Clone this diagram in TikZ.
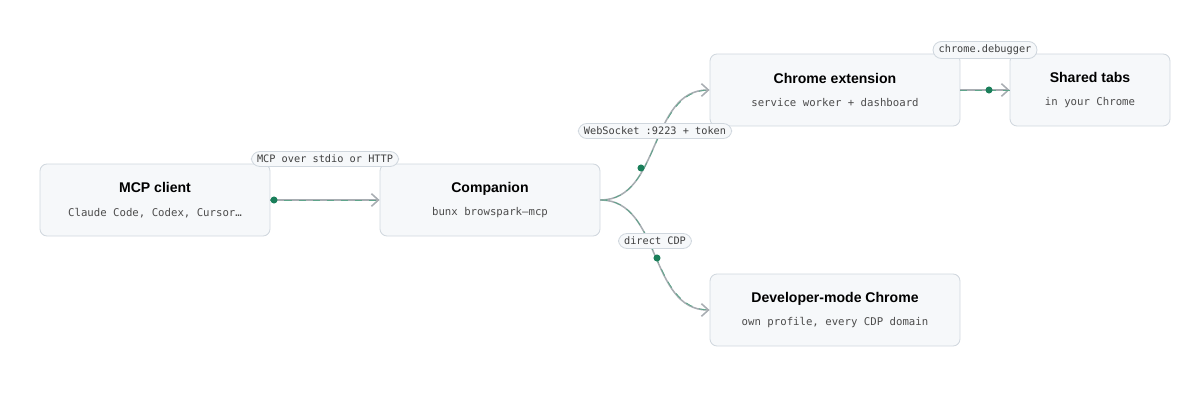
\documentclass[tikz,border=0pt]{standalone}
\usepackage{fontspec}
\setmainfont{Liberation Sans}
\setmonofont{DejaVu Sans Mono}
\usetikzlibrary{arrows.meta}
\definecolor{boxfill}{HTML}{F6F8FA}
\definecolor{boxline}{HTML}{D0D7DE}
\definecolor{wire}{HTML}{A8ADB2}
\definecolor{dotgreen}{HTML}{1A7F5A}
\tikzset{
  box/.style={draw=boxline, fill=boxfill, rounded corners=5pt, line width=0.6pt,
    minimum height=72*0.025cm, align=center, inner sep=0pt},
  tag/.style={draw=boxline, fill=boxfill, rounded corners=6pt, line width=0.6pt,
    font=\ttfamily\fontsize{7.3}{8}\selectfont, text=black!75, inner xsep=4pt, inner ysep=2.5pt},
  wire/.style={draw=wire, line width=1.1pt, -{Straight Barb[length=5pt,width=9pt]}},
  flow/.style={draw=dotgreen!70, line width=0.6pt, dash pattern=on 5pt off 5pt},
  dot/.style={circle, fill=dotgreen, inner sep=0pt, minimum size=5pt}
}
\newcommand{\boxtext}[2]{{\fontsize{10}{12}\selectfont\bfseries #1}\\[5pt]{\ttfamily\fontsize{7.6}{9}\selectfont\color{black!70}#2}}
\begin{document}
\begin{tikzpicture}[x=0.025cm,y=-0.025cm]
\useasboundingbox (0,0) rectangle (1200,400);

% boxes
\node[box, minimum width=230*0.025cm] (client) at (155,200) {\boxtext{MCP client}{Claude Code, Codex, Cursor…}};
\node[box, minimum width=220*0.025cm] (comp) at (490,200) {\boxtext{Companion}{bunx browspark–mcp}};
\node[box, minimum width=250*0.025cm] (ext) at (835,90) {\boxtext{Chrome extension}{service worker + dashboard}};
\node[box, minimum width=160*0.025cm] (tabs) at (1090,90) {\boxtext{Shared tabs}{in your Chrome}};
\node[box, minimum width=250*0.025cm] (dev) at (835,310) {\boxtext{Developer-mode Chrome}{own profile, every CDP domain}};

% connectors
\draw[wire] (client.east) -- (comp.west);
\draw[flow] (client.east) -- (comp.west);
\node[dot] (d1) at (274,200) {};

\draw[wire] (comp.east) to[out=0,in=180] (ext.west);
\draw[flow] (comp.east) to[out=0,in=180] (ext.west);
\node[dot] (d2) at (641,168) {};

\draw[wire] (comp.east) to[out=0,in=180] (dev.west);
\draw[flow] (comp.east) to[out=0,in=180] (dev.west);
\node[dot] (d3) at (657,258) {};

\draw[wire] (ext.east) -- (tabs.west);
\draw[flow] (ext.east) -- (tabs.west);
\node[dot] (d4) at (989,90) {};

% labels
\node[tag] (l1) at (325,159) {MCP over stdio or HTTP};
\node[tag] (l2) at (655,131) {WebSocket :9223 + token};
\node[tag] (l3) at (655,241) {direct CDP};
\node[tag] (l4) at (985,50) {chrome.debugger};
\end{tikzpicture}
\end{document}
